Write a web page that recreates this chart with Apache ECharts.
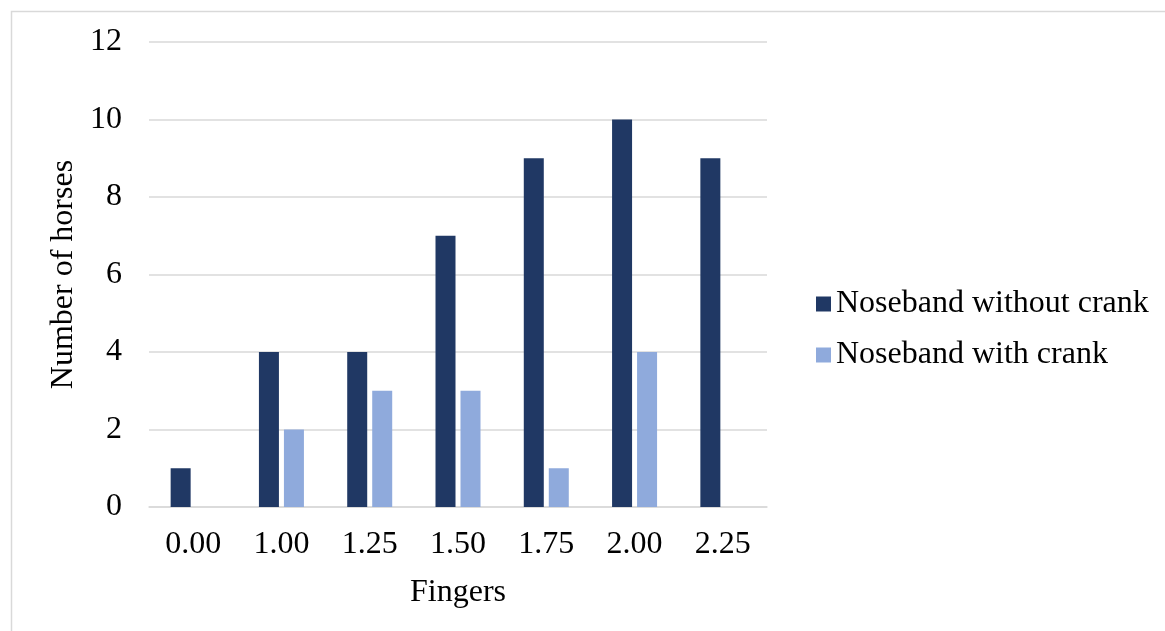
<!DOCTYPE html>
<html>
<head>
<meta charset="utf-8">
<script src="https://cdn.jsdelivr.net/npm/echarts@6/dist/echarts.min.js"></script>
<style>
  html, body { margin: 0; padding: 0; background: #fff; }
  #chart { width: 1165px; height: 631px; }
</style>
</head>
<body>
<div id="chart"></div>
<script>
// Noseband tightness measured in fingers, horse counts per group
const categories = ['0.00', '1.00', '1.25', '1.50', '1.75', '2.00', '2.25'];
const withoutCrank = [1, 4, 4, 7, 9, 10, 9];
const withCrank = [0, 2, 3, 3, 1, 4, 0];
const seriesNames = ['Noseband without crank', 'Noseband with crank'];

const font = '"Liberation Serif", "Times New Roman", serif';
const fs = 32;
const chart = echarts.init(document.getElementById('chart'));

chart.setOption({
  animation: false,
  graphic: [{
    type: 'rect',
    shape: { x: 11.5, y: 11.5, width: 1170, height: 640 },
    style: { fill: 'none', stroke: '#d9d9d9', lineWidth: 1.5 },
    silent: true
  }],
  grid: { left: 149, right: 398, top: 42, bottom: 124, containLabel: false },
  legend: {
    orient: 'vertical',
    left: 811,
    top: 283,
    itemWidth: 15,
    itemHeight: 15,
    itemGap: 19,
    icon: 'rect',
    textStyle: { fontFamily: font, fontSize: fs, color: '#000', padding: [0, 0, 0, 0] },
    data: seriesNames
  },
  xAxis: {
    type: 'category',
    data: categories,
    name: 'Fingers',
    nameLocation: 'middle',
    nameGap: 70,
    nameTextStyle: { fontFamily: font, fontSize: fs, color: '#000' },
    axisLine: { lineStyle: { color: '#d9d9d9', width: 1.5 } },
    axisTick: { show: false },
    axisLabel: { fontFamily: font, fontSize: fs, color: '#000', margin: 22 }
  },
  yAxis: {
    type: 'value',
    min: 0,
    max: 12,
    interval: 2,
    name: 'Number of horses',
    nameLocation: 'middle',
    nameGap: 68,
    nameTextStyle: { fontFamily: font, fontSize: fs, color: '#000' },
    axisLine: { show: false },
    axisTick: { show: false },
    axisLabel: { fontFamily: font, fontSize: fs, color: '#000', margin: 27 },
    splitLine: { lineStyle: { color: '#d9d9d9', width: 1.5 } }
  },
  series: [
    {
      name: seriesNames[0],
      type: 'bar',
      data: withoutCrank,
      barWidth: 20,
      barGap: '25%',
      itemStyle: { color: '#203864' }
    },
    {
      name: seriesNames[1],
      type: 'bar',
      data: withCrank,
      barWidth: 20,
      barGap: '25%',
      itemStyle: { color: '#8FAADC' }
    }
  ]
});
</script>
</body>
</html>
